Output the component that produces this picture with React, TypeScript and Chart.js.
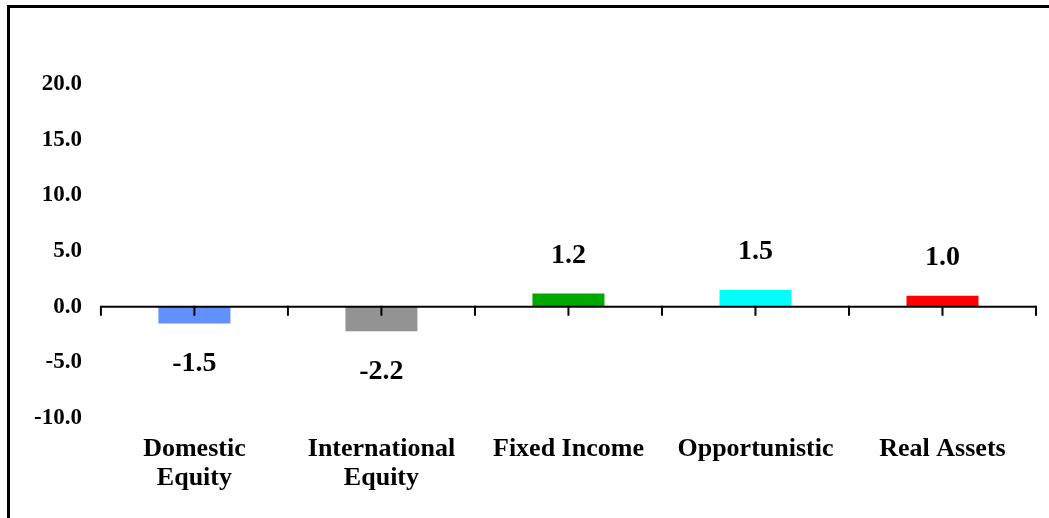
import React, { useEffect, useRef } from 'react';
import { Chart, registerables } from 'chart.js';

Chart.register(...registerables);

const categories: string[][] = [
  ['Domestic', 'Equity'],
  ['International', 'Equity'],
  ['Fixed Income'],
  ['Opportunistic'],
  ['Real Assets'],
];
const values: number[] = [-1.5, -2.2, 1.2, 1.5, 1.0];
const valueLabels: string[] = ['-1.5', '-2.2', '1.2', '1.5', '1.0'];
const barColors: string[] = ['#6190FF', '#939393', '#00A800', '#00FFFF', '#FF0000'];
const yMin = -10;
const yMax = 20;
const yStep = 5;

const FONT = '"Liberation Serif", "Times New Roman", serif';

const zeroAxisPlugin = {
  id: 'zeroAxis',
  afterDatasetsDraw(chart: any) {
    const { ctx, chartArea, scales } = chart;
    const x = scales.x;
    const y = scales.y;
    const y0 = y.getPixelForValue(0);
    ctx.save();
    ctx.strokeStyle = '#000';
    ctx.lineWidth = 2;
    ctx.beginPath();
    ctx.moveTo(chartArea.left, y0);
    ctx.lineTo(chartArea.right, y0);
    ctx.stroke();
    const n = categories.length;
    const centers: number[] = [];
    for (let i = 0; i < n; i++) centers.push(x.getPixelForValue(i));
    const marks: number[] = [chartArea.left];
    for (let i = 0; i < n; i++) {
      marks.push(centers[i]);
      if (i < n - 1) marks.push((centers[i] + centers[i + 1]) / 2);
    }
    marks.push(chartArea.right);
    ctx.beginPath();
    for (const m of marks) {
      ctx.moveTo(m, y0 - 1);
      ctx.lineTo(m, y0 + 9);
    }
    ctx.stroke();
    ctx.restore();
  },
};

const valueLabelPlugin = {
  id: 'valueLabels',
  afterDatasetsDraw(chart: any) {
    const { ctx } = chart;
    const meta = chart.getDatasetMeta(0);
    ctx.save();
    ctx.font = `bold 28px ${FONT}`;
    ctx.fillStyle = '#000';
    ctx.textAlign = 'center';
    ctx.textBaseline = 'middle';
    meta.data.forEach((bar: any, i: number) => {
      const v = values[i];
      const yPos = v >= 0 ? bar.y - 38 : bar.y + 40;
      ctx.fillText(valueLabels[i], bar.x, yPos);
    });
    ctx.restore();
  },
};

export default function App() {
  const canvasRef = useRef<HTMLCanvasElement | null>(null);

  useEffect(() => {
    if (!canvasRef.current) return;
    const chart = new Chart(canvasRef.current, {
      type: 'bar',
      data: {
        labels: categories,
        datasets: [
          {
            data: values,
            backgroundColor: barColors,
            borderWidth: 0,
            categoryPercentage: 0.385,
            barPercentage: 1,
          },
        ],
      },
      options: {
        animation: false,
        responsive: true,
        maintainAspectRatio: false,
        layout: { padding: { left: 15, right: 13, top: 84, bottom: 8.6 } },
        plugins: {
          legend: { display: false },
          tooltip: { enabled: false },
          title: { display: false },
        },
        scales: {
          x: {
            grid: { display: false, drawTicks: false },
            border: { display: false },
            ticks: {
              color: '#000',
              padding: 17,
              maxRotation: 0,
              autoSkip: false,
              font: { family: FONT, size: 26, weight: 'bold', lineHeight: 1.1 },
            },
          },
          y: {
            min: yMin,
            max: yMax,
            grid: { display: false, drawTicks: false },
            border: { display: false },
            ticks: {
              stepSize: yStep,
              color: '#000',
              padding: 19,
              font: { family: FONT, size: 23, weight: 'bold' },
              callback: (v: any) => Number(v).toFixed(1),
            },
          },
        },
      },
      plugins: [zeroAxisPlugin, valueLabelPlugin],
    });
    return () => chart.destroy();
  }, []);

  return (
    <div
      style={{
        position: 'absolute',
        left: 0,
        top: 0,
        width: 1049,
        height: 518,
        overflow: 'hidden',
        background: '#fff',
      }}
    >
      <div
        style={{
          position: 'absolute',
          left: 7,
          top: 5,
          width: 1200,
          height: 700,
          borderTop: '3px solid #000',
          borderLeft: '3px solid #000',
        }}
      />
      <div style={{ position: 'absolute', left: 0, top: 0, width: 1049, height: 518 }}>
        <canvas ref={canvasRef} />
      </div>
    </div>
  );
}
